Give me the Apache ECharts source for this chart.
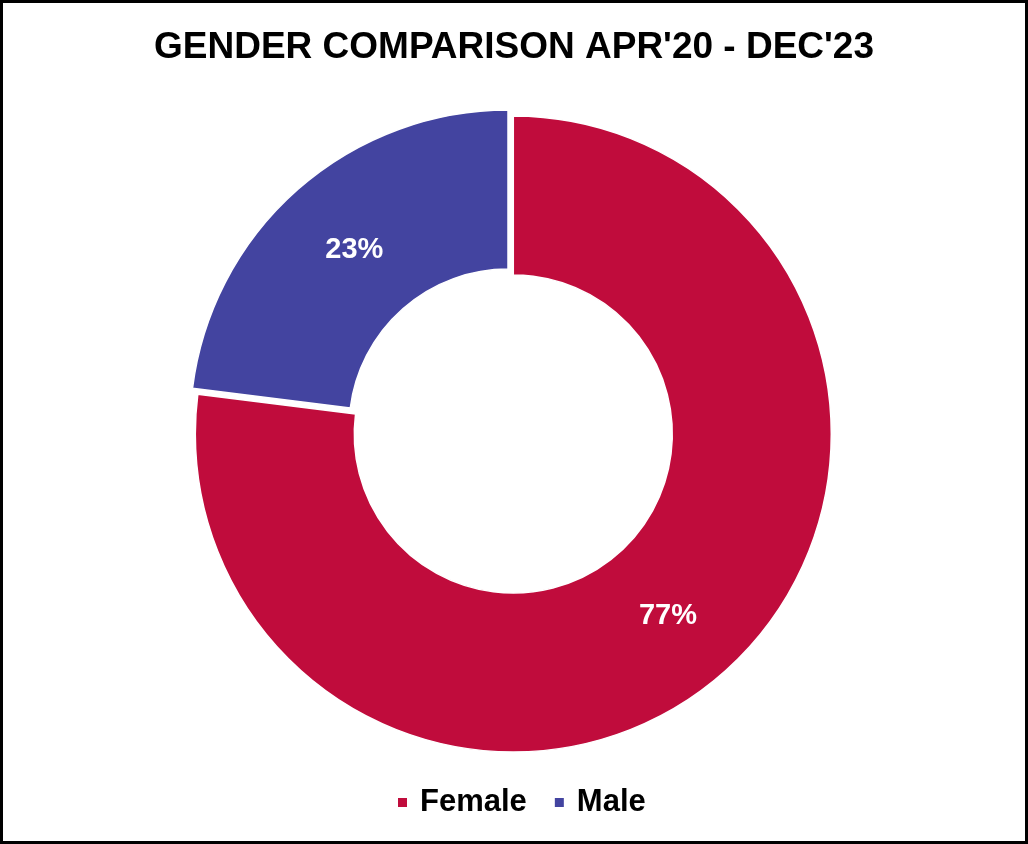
<!DOCTYPE html>
<html>
<head>
<meta charset="utf-8">
<script src="https://cdn.jsdelivr.net/npm/echarts@6/dist/echarts.min.js"></script>
<style>
html,body{margin:0;padding:0;background:#fff;}
#frame{width:1028px;height:844px;box-sizing:border-box;border:3px solid #000;position:relative;}
#chart{position:absolute;left:-3px;top:-3px;width:1028px;height:844px;}
</style>
</head>
<body>
<div id="frame"><div id="chart"></div></div>
<script>
const title = "GENDER COMPARISON APR'20 - DEC'23";
const categories = ["Female", "Male"];
const values = [77, 23];
const colors = ["#C00C3C", "#4344A0"];
const labelShift = [[-5, 1], [6, 3]];

const chart = echarts.init(document.getElementById('chart'), null, {renderer: 'canvas'});
chart.setOption({
  animation: false,
  backgroundColor: 'transparent',
  title: {
    text: title,
    left: 'center',
    top: 24,
    textStyle: {fontFamily: 'Liberation Sans, Arial, sans-serif', fontWeight: 'bold', fontSize: 37, color: '#000'}
  },
  legend: {
    data: categories,
    bottom: 21,
    left: 391,
    icon: 'rect',
    itemWidth: 11,
    itemHeight: 11,
    itemGap: 26,
    selectedMode: false,
    textStyle: {fontFamily: 'Liberation Sans, Arial, sans-serif', fontWeight: 'bold', fontSize: 31, color: '#000', padding: [0, 0, 0, 7]}
  },
  series: [{
    type: 'pie',
    center: [508, 428],
    radius: [159, 318],
    startAngle: 90,
    clockwise: true,
    selectedMode: 'multiple',
    selectedOffset: 8,
    avoidLabelOverlap: false,
    itemStyle: {borderColor: '#fff', borderWidth: 1.5},
    emphasis: {disabled: true},
    select: {itemStyle: {borderColor: '#fff', borderWidth: 1.5}},
    label: {
      show: true,
      position: 'inside',
      formatter: '{d}%',
      color: '#fff',
      fontFamily: 'Liberation Sans, Arial, sans-serif',
      fontWeight: 'bold',
      fontSize: 29
    },
    labelLine: {show: false},
    data: categories.map((c, i) => ({
      name: c,
      value: values[i],
      selected: i === 0,
      itemStyle: {color: colors[i]},
      label: {offset: labelShift[i]},
      select: {itemStyle: {color: colors[i]}, label: {offset: labelShift[i]}}
    }))
  }]
});
</script>
</body>
</html>
